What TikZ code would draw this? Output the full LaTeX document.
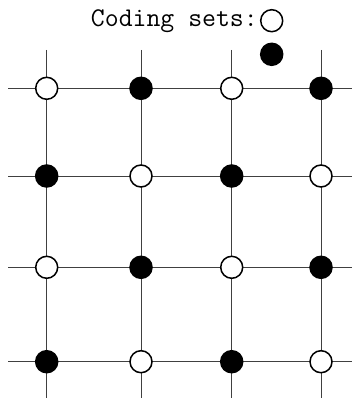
\documentclass[tikz,border=0pt]{standalone}
\begin{document}
\begin{tikzpicture}[x=1pt,y=-1pt,
  gridline/.style={line width=1pt,draw=black!75},
  opendot/.style={circle,draw=black,fill=white,line width=1.5pt,minimum size=22pt,inner sep=0pt},
  filldot/.style={circle,draw=black,fill=black,line width=1.5pt,minimum size=22pt,inner sep=0pt},
  lbl/.style={font=\ttfamily\fontsize{27}{32}\selectfont,inner sep=0pt}]
\useasboundingbox (0,0) rectangle (352,398);
% grid coordinates
\foreach \i/\x in {1/46.7,2/141,3/231.7,4/321}{
  \coordinate (vt\i) at (\x,50);
  \coordinate (vb\i) at (\x,398);
  \draw[gridline] (vt\i) -- (vb\i);
}
\foreach \j/\y in {1/88.3,2/176,3/267.3,4/361.7}{
  \coordinate (hl\j) at (8,\y);
  \coordinate (hr\j) at (352,\y);
  \draw[gridline] (hl\j) -- (hr\j);
}
% dots
\node[opendot] (d11) at (46.7,88.3) {};
\node[filldot] (d21) at (141,88.3) {};
\node[opendot] (d31) at (231.7,88.3) {};
\node[filldot] (d41) at (321,88.3) {};
\node[filldot] (d12) at (46.7,176) {};
\node[opendot] (d22) at (141,176) {};
\node[filldot] (d32) at (231.7,176) {};
\node[opendot] (d42) at (321,176) {};
\node[opendot] (d13) at (46.7,267.3) {};
\node[filldot] (d23) at (141,267.3) {};
\node[opendot] (d33) at (231.7,267.3) {};
\node[filldot] (d43) at (321,267.3) {};
\node[filldot] (d14) at (46.7,361.7) {};
\node[opendot] (d24) at (141,361.7) {};
\node[filldot] (d34) at (231.7,361.7) {};
\node[opendot] (d44) at (321,361.7) {};
% legend
\node[opendot] (lopen) at (271.7,20.7) {};
\node[filldot] (lfill) at (271.7,54.3) {};
\node[lbl,anchor=base east] (ltext) at (258,26.7) {Coding sets:};
\end{tikzpicture}
\end{document}
